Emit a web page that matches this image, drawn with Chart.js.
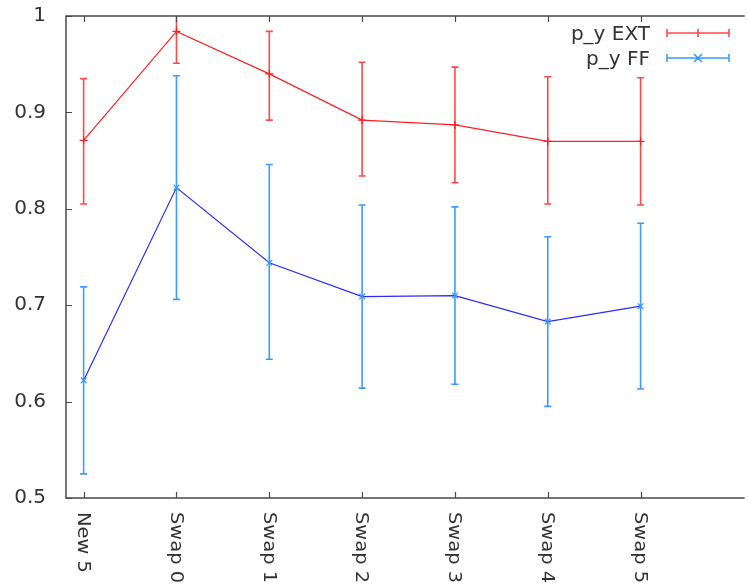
<!DOCTYPE html>
<html>
<head>
<meta charset="utf-8">
<script src="https://cdn.jsdelivr.net/npm/chart.js@4"></script>
<style>
html,body{margin:0;padding:0;background:#fff;}
#wrap{width:748px;height:587px;position:relative;}
</style>
</head>
<body>
<div id="wrap"><canvas id="c" width="748" height="587"></canvas></div>
<script>
const categories = ["New 5", "Swap 0", "Swap 1", "Swap 2", "Swap 3", "Swap 4", "Swap 5"];
const extValues = [0.871, 0.984, 0.940, 0.892, 0.887, 0.870, 0.870];
const extLow    = [0.805, 0.951, 0.892, 0.834, 0.827, 0.805, 0.804];
const extHigh   = [0.935, 1.015, 0.984, 0.952, 0.947, 0.937, 0.936];
const ffValues  = [0.622, 0.822, 0.744, 0.709, 0.710, 0.683, 0.699];
const ffLow     = [0.525, 0.706, 0.644, 0.614, 0.618, 0.595, 0.613];
const ffHigh    = [0.719, 0.938, 0.846, 0.804, 0.802, 0.771, 0.785];
const yTicks    = [0.5, 0.6, 0.7, 0.8, 0.9, 1];
const seriesNames = ["p_y EXT", "p_y FF"];

const FONT = '"DejaVu Sans", sans-serif';
const AXIS = '#4a4a4a';
const TEXT = '#333333';
const EXT_LINE = '#ff2020';
const EXT_BAR = '#ff4a4a';
const FF_LINE = '#2a2aff';
const FF_BAR = '#3d9bff';

const pts = v => v.map((y, i) => ({x: i, y: y}));

const errorPlugin = {
  id: 'errbars',
  beforeDatasetsDraw(chart) {
    const ctx = chart.ctx, xs = chart.scales.x, ys = chart.scales.y, a = chart.chartArea;
    ctx.save();
    ctx.beginPath();
    ctx.rect(a.left, a.top, a.right - a.left, a.bottom - a.top);
    ctx.clip();
    const draw = (lo, hi, col) => {
      ctx.strokeStyle = col; ctx.lineWidth = 1.6;
      for (let i = 0; i < lo.length; i++) {
        const x = xs.getPixelForValue(i);
        const y1 = ys.getPixelForValue(lo[i]), y2 = ys.getPixelForValue(hi[i]);
        ctx.beginPath();
        ctx.moveTo(x, y1); ctx.lineTo(x, y2);
        ctx.moveTo(x - 3.5, y1); ctx.lineTo(x + 3.5, y1);
        ctx.moveTo(x - 3.5, y2); ctx.lineTo(x + 3.5, y2);
        ctx.stroke();
      }
    };
    draw(extLow, extHigh, EXT_BAR);
    draw(ffLow, ffHigh, FF_BAR);
    ctx.restore();
  },
  afterDraw(chart) {
    const ctx = chart.ctx, xs = chart.scales.x, ys = chart.scales.y, a = chart.chartArea;
    ctx.save();
    ctx.strokeStyle = AXIS; ctx.lineWidth = 1.5;
    ctx.beginPath();
    ctx.moveTo(a.right + 2, a.top); ctx.lineTo(a.left, a.top);
    ctx.lineTo(a.left, a.bottom); ctx.lineTo(a.right + 2, a.bottom);
    ctx.stroke();
    ctx.lineWidth = 1.2;
    ctx.beginPath();
    for (let i = 0; i < categories.length; i++) {
      const x = Math.round(xs.getPixelForValue(i)) + 0.5;
      ctx.moveTo(x, a.bottom); ctx.lineTo(x, a.bottom - 6);
      ctx.moveTo(x, a.top); ctx.lineTo(x, a.top + 6);
    }
    yTicks.forEach(v => {
      const y = Math.round(ys.getPixelForValue(v)) + 0.5;
      ctx.moveTo(a.left, y); ctx.lineTo(a.left + 6, y);
    });
    ctx.stroke();
    ctx.fillStyle = TEXT;
    ctx.font = '20px ' + FONT;
    // y tick labels
    ctx.textAlign = 'right'; ctx.textBaseline = 'middle';
    yTicks.forEach(v => {
      ctx.fillText(String(v), a.left - 20, ys.getPixelForValue(v));
    });
    // x labels rotated (reading top to bottom)
    ctx.font = '18px ' + FONT;
    ctx.textAlign = 'left';
    for (let i = 0; i < categories.length; i++) {
      const x = xs.getPixelForValue(i);
      ctx.save();
      ctx.translate(x, a.bottom + 14);
      ctx.rotate(Math.PI / 2);
      ctx.scale(1.08, 1);
      ctx.fillText(categories[i], 0, 1);
      ctx.restore();
    }
    // legend
    ctx.font = '20px ' + FONT;
    ctx.textAlign = 'right'; ctx.textBaseline = 'alphabetic';
    const rows = [[seriesNames[0], EXT_BAR, 'plus', 33], [seriesNames[1], FF_BAR, 'x', 58]];
    rows.forEach(r => {
      const y = r[3];
      ctx.fillStyle = TEXT;
      ctx.fillText(r[0], 650, y + 7);
      ctx.strokeStyle = r[1]; ctx.lineWidth = 1.6;
      ctx.beginPath();
      ctx.moveTo(667, y); ctx.lineTo(729, y);
      ctx.moveTo(667, y - 4); ctx.lineTo(667, y + 4);
      ctx.moveTo(729, y - 4); ctx.lineTo(729, y + 4);
      if (r[2] === 'plus') { ctx.moveTo(698, y - 4); ctx.lineTo(698, y + 4); }
      else { ctx.moveTo(694, y - 4); ctx.lineTo(702, y + 4); ctx.moveTo(702, y - 4); ctx.lineTo(694, y + 4); }
      ctx.stroke();
    });
    ctx.restore();
  }
};

new Chart(document.getElementById('c'), {
  type: 'line',
  data: {
    datasets: [
      {label: seriesNames[0], data: pts(extValues), borderColor: EXT_LINE, borderWidth: 1.2,
       pointStyle: 'cross', pointRadius: 4, pointBorderColor: EXT_LINE, pointBorderWidth: 1.3,
       pointBackgroundColor: EXT_LINE, tension: 0},
      {label: seriesNames[1], data: pts(ffValues), borderColor: FF_LINE, borderWidth: 1.2,
       pointStyle: 'crossRot', pointRadius: 4, pointBorderColor: FF_BAR, pointBorderWidth: 1.3,
       pointBackgroundColor: FF_BAR, tension: 0}
    ]
  },
  options: {
    responsive: false,
    animation: false,
    devicePixelRatio: 1,
    layout: {padding: {top: 16, right: 0, bottom: 89, left: 66}},
    plugins: {legend: {display: false}, tooltip: {enabled: false}},
    scales: {
      x: {type: 'linear', min: -0.19, max: 7.1, display: false},
      y: {type: 'linear', min: 0.5, max: 1, display: false}
    }
  },
  plugins: [errorPlugin]
});
</script>
</body>
</html>
